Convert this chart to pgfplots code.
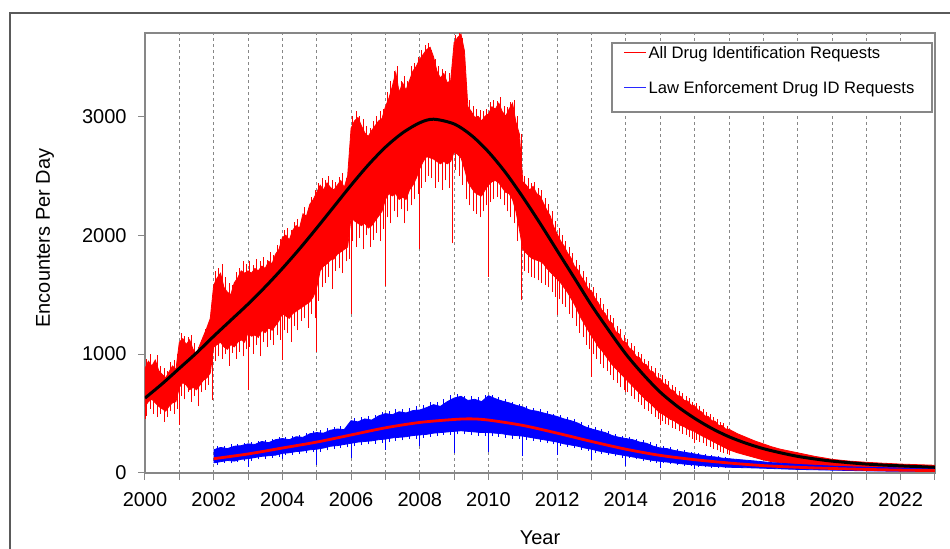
\documentclass[border=0pt]{standalone}
\usepackage{fontspec}
\setmainfont{Liberation Sans}
\usepackage{pgfplots}
\pgfplotsset{compat=1.18}

\definecolor{axgray}{RGB}{135,135,135}
\definecolor{framegray}{RGB}{90,90,90}
\definecolor{legblue}{RGB}{40,40,255}

\begin{document}
\begin{tikzpicture}
\useasboundingbox (0,0) rectangle (475pt,274.5pt);
\draw[framegray, line width=0.65pt] (5pt,-2pt) -- (5pt,268pt) -- (477pt,268pt);
\begin{axis}[
  at={(72.5pt,38pt)}, anchor=south west,
  scale only axis, width=395pt, height=220pt,
  xmin=2000, xmax=2023, ymin=0, ymax=3700,
  xtick={2000,2002,...,2022},
  minor xtick={2001,2003,...,2023},
  ytick={0,1000,2000,3000},
  xtick pos=bottom, ytick pos=left, tick align=outside,
  major tick length=3.5pt, minor tick length=3.5pt,
  tick style={axgray, line width=0.5pt},
  axis line style={axgray, line width=0.6pt},
  xmajorgrids, xminorgrids,
  major grid style={axgray, dash pattern=on 1.5pt off 1.5pt, line width=0.4pt},
  minor grid style={axgray, dash pattern=on 1.5pt off 1.5pt, line width=0.4pt},
  /pgf/number format/assume math mode=true,
  /pgf/number format/1000 sep={},
  tick label style={font=\fontsize{10}{12}\selectfont},
  xticklabel style={anchor=center, yshift=-9.75pt},
  yticklabel style={anchor=east, inner sep=0pt, xshift=-5.5pt},
  xlabel={Year}, ylabel={Encounters Per Day},
  label style={font=\fontsize{10}{12}\selectfont},
  xlabel style={at={(axis description cs:0.5,0)}, anchor=center, yshift=-32.5pt},
  ylabel style={at={(axis description cs:-0.1266,0.534)}, anchor=center},
  legend style={at={(axis description cs:0.6051,0.9716)}, anchor=north west,
    draw=none, fill=none, inner sep=0pt, row sep=9.5pt, column sep=1pt,
    font=\fontsize{8.3}{10}\selectfont,
    nodes={inner sep=0pt, text height=6.4pt, text depth=1.6pt}},
  legend cell align=left,
]
\addlegendimage{legend image code/.code={\draw[draw=red, line width=0.6pt] (0pt,0.5pt) -- (11pt,0.5pt);}}
\addlegendentry{All Drug Identification Requests}
\addlegendimage{legend image code/.code={\draw[draw=legblue, line width=0.6pt] (0pt,0.5pt) -- (11pt,0.5pt);}}
\addlegendentry{Law Enforcement Drug ID Requests}

% all drug identification requests: daily band, upper edge forward, lower edge back
\addplot[red, fill=red, line width=0.4pt, forget plot] table {
x y
2000.0 880
2000.1 940
2000.2 900
2000.3 950
2000.4 860
2000.5 830
2000.6 800
2000.7 850
2000.8 900
2000.9 870
2001.0 1100
2001.1 1130
2001.2 1080
2001.3 1120
2001.4 1040
2001.5 1000
2001.6 1080
2001.7 1150
2001.8 1220
2001.9 1300
2002.0 1580
2002.1 1640
2002.2 1680
2002.3 1560
2002.4 1520
2002.5 1500
2002.6 1600
2002.7 1640
2002.8 1700
2002.9 1680
2003.0 1700
2003.1 1680
2003.2 1720
2003.3 1700
2003.4 1740
2003.5 1720
2003.6 1780
2003.7 1760
2003.8 1840
2003.9 1880
2004.0 1980
2004.1 2000
2004.2 1960
2004.3 2040
2004.4 2080
2004.5 2060
2004.6 2180
2004.7 2160
2004.8 2260
2004.9 2300
2005.0 2360
2005.1 2420
2005.2 2380
2005.3 2440
2005.4 2400
2005.5 2380
2005.6 2420
2005.7 2460
2005.8 2400
2005.9 2500
2006.0 2900
2006.1 2960
2006.2 2990
2006.3 2920
2006.4 2860
2006.5 2830
2006.6 2880
2006.7 2920
2006.8 2960
2006.9 2980
2007.0 3080
2007.1 3150
2007.2 3250
2007.3 3370
2007.4 3200
2007.5 3280
2007.6 3220
2007.7 3300
2007.8 3380
2007.9 3420
2008.0 3480
2008.1 3520
2008.2 3560
2008.3 3580
2008.4 3500
2008.5 3380
2008.6 3320
2008.7 3360
2008.8 3280
2008.9 3300
2009.0 3620
2009.1 3660
2009.2 3690
2009.3 3550
2009.4 3080
2009.5 3040
2009.6 2990
2009.7 3000
2009.8 2960
2009.9 3000
2010.0 3020
2010.1 3080
2010.2 3060
2010.3 3110
2010.4 3040
2010.5 3000
2010.6 3060
2010.7 3110
2010.8 2950
2010.9 2850
2011.0 2450
2011.1 2420
2011.2 2380
2011.3 2410
2011.4 2350
2011.5 2330
2011.6 2270
2011.7 2210
2011.8 2160
2011.9 2070
2012.0 2010
2012.1 1950
2012.2 1910
2012.3 1850
2012.4 1810
2012.5 1740
2012.6 1710
2012.7 1650
2012.8 1610
2012.9 1550
2013.0 1530
2013.1 1470
2013.2 1430
2013.3 1370
2013.4 1340
2013.5 1280
2013.6 1260
2013.7 1190
2013.8 1170
2013.9 1110
2014.0 1100
2014.1 1050
2014.2 1030
2014.3 980
2014.4 970
2014.5 920
2014.6 910
2014.7 860
2014.8 850
2014.9 800
2015.0 795
2015.1 750
2015.2 740
2015.3 700
2015.4 690
2015.5 650
2015.6 645
2015.7 610
2015.8 605
2015.9 570
2016.0 565
2016.1 530
2016.2 515
2016.3 480
2016.4 475
2016.5 440
2016.6 435
2016.7 400
2016.8 400
2016.9 370
2017.0 368
2017.25 330
2017.5 300
2017.75 270
2018.0 245
2018.25 220
2018.5 200
2018.75 185
2019.0 170
2019.25 155
2019.5 140
2019.75 128
2020.0 115
2020.5 100
2021.0 90
2021.5 82
2022.0 75
2022.5 70
2023.0 65
2023.0 18
2022.5 20
2022.0 22
2021.5 26
2021.0 30
2020.5 36
2020.0 45
2019.75 50
2019.5 55
2019.25 62
2019.0 70
2018.75 78
2018.5 85
2018.25 95
2018.0 110
2017.75 130
2017.5 150
2017.25 170
2017.0 195
2016.9 210
2016.8 225
2016.7 240
2016.6 255
2016.5 270
2016.4 285
2016.3 300
2016.2 315
2016.1 330
2016.0 350
2015.9 360
2015.8 370
2015.7 390
2015.6 400
2015.5 420
2015.4 440
2015.3 450
2015.2 470
2015.1 490
2015.0 505
2014.9 530
2014.8 560
2014.7 590
2014.6 610
2014.5 640
2014.4 670
2014.3 700
2014.2 730
2014.1 760
2014.0 790
2013.9 820
2013.8 850
2013.7 880
2013.6 910
2013.5 950
2013.4 990
2013.3 1030
2013.2 1060
2013.1 1110
2013.0 1150
2012.9 1200
2012.8 1250
2012.7 1300
2012.6 1360
2012.5 1420
2012.4 1470
2012.3 1520
2012.2 1560
2012.1 1600
2012.0 1630
2011.9 1660
2011.8 1690
2011.7 1720
2011.6 1760
2011.5 1780
2011.4 1790
2011.3 1800
2011.2 1820
2011.1 1850
2011.0 1880
2010.9 2050
2010.8 2200
2010.7 2300
2010.6 2350
2010.5 2360
2010.4 2400
2010.3 2440
2010.2 2460
2010.1 2450
2010.0 2420
2009.9 2380
2009.8 2330
2009.7 2340
2009.6 2360
2009.5 2400
2009.4 2450
2009.3 2560
2009.2 2650
2009.1 2680
2009.0 2700
2008.9 2620
2008.8 2600
2008.7 2620
2008.6 2600
2008.5 2620
2008.4 2640
2008.3 2650
2008.2 2660
2008.1 2620
2008.0 2560
2007.9 2480
2007.8 2420
2007.7 2380
2007.6 2300
2007.5 2320
2007.4 2300
2007.3 2350
2007.2 2330
2007.1 2350
2007.0 2300
2006.9 2200
2006.8 2160
2006.7 2120
2006.6 2080
2006.5 2060
2006.4 2100
2006.3 2080
2006.2 2100
2006.1 2120
2006.0 2150
2005.9 1900
2005.8 1880
2005.7 1860
2005.6 1840
2005.5 1800
2005.4 1790
2005.3 1760
2005.2 1740
2005.1 1700
2005.0 1560
2004.9 1480
2004.8 1440
2004.7 1420
2004.6 1400
2004.5 1380
2004.4 1360
2004.3 1340
2004.2 1300
2004.1 1320
2004.0 1340
2003.9 1280
2003.8 1240
2003.7 1200
2003.6 1220
2003.5 1180
2003.4 1200
2003.3 1140
2003.2 1160
2003.1 1150
2003.0 1180
2002.9 1100
2002.8 1120
2002.7 1100
2002.6 1060
2002.5 1080
2002.4 1040
2002.3 1060
2002.2 1100
2002.1 1080
2002.0 1060
2001.9 840
2001.8 800
2001.7 780
2001.6 740
2001.5 700
2001.4 720
2001.3 700
2001.2 740
2001.1 760
2001.0 720
2000.9 600
2000.8 590
2000.7 560
2000.6 520
2000.5 540
2000.4 560
2000.3 590
2000.2 620
2000.1 600
2000.0 560
};
% day-to-day scatter beyond the band (bottom and top of each stroke)
\addplot[draw=none, mark=none, forget plot,
  error bars/.cd, y dir=plus, y explicit, error mark=none,
  error bar style={draw=red, line width=0.35pt, solid}]
  table[x=x, y=bot, y error expr=\thisrow{top}-\thisrow{bot}] {
x bot top
2000.05 480 960
2000.15 540 1000
2000.25 500 920
2000.35 470 990
2000.45 500 900
2000.55 430 880
2000.65 470 860
2000.75 520 930
2000.85 500 950
2000.95 540 1000
2001.05 650 1180
2001.15 620 1150
2001.25 680 1140
2001.35 600 1160
2001.45 650 1090
2001.55 560 1060
2001.65 680 1120
2001.75 700 1210
2001.85 740 1260
2001.95 780 1380
2002.05 940 1700
2002.15 980 1720
2002.25 960 1760
2002.35 1000 1650
2002.45 900 1600
2002.55 1010 1580
2002.65 960 1690
2002.75 1020 1720
2002.85 980 1780
2002.95 1040 1760
2003.05 1060 1780
2003.15 1000 1750
2003.25 1080 1800
2003.35 980 1780
2003.45 1100 1820
2003.55 1060 1790
2003.65 1120 1860
2003.75 1080 1830
2003.85 1160 1920
2003.95 1120 1970
2004.05 1200 2040
2004.15 1180 2060
2004.25 1100 2040
2004.35 1240 2110
2004.45 1200 2140
2004.55 1280 2130
2004.65 1300 2240
2004.75 1220 2230
2004.85 1340 2320
2004.95 1300 2380
2005.05 1450 2440
2005.15 1560 2480
2005.25 1600 2460
2005.35 1650 2500
2005.45 1550 2460
2005.55 1700 2450
2005.65 1720 2490
2005.75 1680 2520
2005.85 1780 2480
2005.95 1800 2600
2006.05 1950 3000
2006.15 1900 3040
2006.25 1980 3000
2006.35 1880 2980
2006.45 2000 2920
2006.55 1900 2900
2006.65 1960 2960
2006.75 2020 3000
2006.85 1950 3040
2006.95 2050 3060
2007.05 2150 3200
2007.15 2100 3300
2007.25 2200 3380
2007.35 2150 3420
2007.45 2220 3300
2007.55 2100 3340
2007.65 2200 3300
2007.75 2250 3420
2007.85 2300 3450
2007.95 2350 3500
2008.05 2400 3560
2008.15 2450 3600
2008.25 2500 3620
2008.35 2480 3560
2008.45 2400 3480
2008.55 2450 3420
2008.65 2380 3400
2008.75 2460 3380
2008.85 2400 3360
2008.95 2500 3450
2009.05 2550 3680
2009.15 2500 3700
2009.25 2420 3660
2009.35 2300 3250
2009.45 2250 3140
2009.55 2200 3090
2009.65 2180 3060
2009.75 2150 3050
2009.85 2200 3040
2009.95 2250 3060
2010.05 2280 3120
2010.15 2300 3140
2010.25 2320 3130
2010.35 2300 3160
2010.45 2250 3090
2010.55 2200 3080
2010.65 2150 3120
2010.75 2100 3140
2010.85 1950 3000
2010.95 1800 2850
2011.05 1700 2500
2011.15 1680 2480
2011.25 1650 2440
2011.35 1640 2450
2011.45 1620 2400
2011.55 1600 2380
2011.65 1580 2310
2011.75 1560 2260
2011.85 1520 2200
2011.95 1480 2120
2012.05 1460 2060
2012.15 1420 2000
2012.25 1400 1950
2012.35 1340 1900
2012.45 1300 1850
2012.55 1240 1790
2012.65 1180 1750
2012.75 1140 1700
2012.85 1080 1650
2012.95 1040 1600
2013.05 1000 1560
2013.15 960 1510
2013.25 920 1470
2013.35 880 1420
2013.45 860 1380
2013.55 820 1330
2013.65 780 1300
2013.75 760 1240
2013.85 720 1210
2013.95 700 1160
2014.05 680 1130
2014.15 650 1090
2014.25 620 1070
2014.35 600 1020
2014.45 570 1000
2014.55 540 960
2014.65 520 940
2014.75 500 900
2014.85 470 880
2014.95 450 840
2015.05 440 820
2015.15 410 790
2015.25 400 770
2015.35 380 740
2015.45 370 720
2015.55 350 690
2015.65 330 670
2015.75 320 650
2015.85 300 630
2015.95 290 600
2016.05 280 590
2016.15 260 560
2016.25 250 540
2016.35 230 510
2016.45 220 500
2016.55 200 470
2016.65 190 450
2016.75 180 430
2016.85 170 420
2016.95 160 395
};
% holiday dips
\addplot[red, line width=0.4pt, forget plot, unbounded coords=jump] coordinates {
(2000.0,450)(2000.0,620) (2000.0,nan)
(2001.0,405)(2001.0,760) (2001.0,nan)
(2001.97,616)(2001.97,900) (2001.97,nan)
(2003.0,700)(2003.0,1200) (2003.0,nan)
(2004.0,950)(2004.0,1350) (2004.0,nan)
(2005.0,1020)(2005.0,1600) (2005.0,nan)
(2005.45,1550)(2005.45,1820) (2005.45,nan)
(2006.0,1340)(2006.0,2150) (2006.0,nan)
(2007.0,1570)(2007.0,2320) (2007.0,nan)
(2008.0,1880)(2008.0,2580) (2008.0,nan)
(2008.95,1930)(2008.95,2650) (2008.95,nan)
(2010.0,1650)(2010.0,2430) (2010.0,nan)
(2010.95,1455)(2010.95,2000) (2010.95,nan)
(2012.0,1330)(2012.0,1640) (2012.0,nan)
(2013.0,810)(2013.0,1160) (2013.0,nan)
(2014.0,680)(2014.0,800) (2014.0,nan)
(2015.0,400)(2015.0,510) (2015.0,nan)
(2016.0,250)(2016.0,360) (2016.0,nan)
(2017.0,150)(2017.0,200)
};

% law enforcement drug ID requests: daily band
\addplot[blue, fill=blue, line width=0.4pt, forget plot] table {
x y
2002.0 195
2002.2 215
2002.4 205
2002.6 225
2002.8 230
2003.0 245
2003.2 240
2003.4 265
2003.6 255
2003.8 280
2004.0 290
2004.2 280
2004.4 305
2004.6 300
2004.8 330
2005.0 340
2005.2 335
2005.4 360
2005.6 370
2005.8 365
2006.0 440
2006.2 430
2006.4 455
2006.6 445
2006.8 480
2007.0 500
2007.2 490
2007.4 515
2007.6 505
2007.8 525
2008.0 530
2008.2 550
2008.4 575
2008.6 560
2008.8 600
2009.0 630
2009.2 645
2009.4 610
2009.6 620
2009.8 600
2010.0 650
2010.2 625
2010.4 605
2010.6 590
2010.8 570
2011.0 555
2011.2 530
2011.4 520
2011.6 505
2011.8 490
2012.0 475
2012.2 455
2012.4 440
2012.6 420
2012.8 390
2013.0 370
2013.2 355
2013.4 340
2013.6 315
2013.8 300
2014.0 290
2014.2 280
2014.4 260
2014.6 250
2014.8 225
2015.0 210
2015.2 205
2015.4 190
2015.6 180
2015.8 170
2016.0 160
2016.2 150
2016.4 140
2016.6 135
2016.8 125
2017.0 120
2017.4 110
2017.8 100
2018.2 88
2018.6 80
2019.0 72
2019.5 65
2020.0 58
2020.5 52
2021.0 48
2021.5 45
2022.0 42
2022.5 40
2023.0 38
2023.0 13
2022.5 14
2022.0 15
2021.5 16
2021.0 18
2020.5 21
2020.0 24
2019.5 27
2019.0 30
2018.6 34
2018.2 38
2017.8 42
2017.4 45
2017.0 48
2016.8 52
2016.6 55
2016.4 58
2016.2 62
2016.0 68
2015.8 72
2015.6 78
2015.4 85
2015.2 92
2015.0 98
2014.8 105
2014.6 115
2014.4 125
2014.2 135
2014.0 145
2013.8 155
2013.6 165
2013.4 175
2013.2 185
2013.0 200
2012.8 210
2012.6 225
2012.4 235
2012.2 245
2012.0 260
2011.8 270
2011.6 280
2011.4 290
2011.2 300
2011.0 310
2010.8 315
2010.6 320
2010.4 330
2010.2 335
2010.0 340
2009.8 340
2009.6 345
2009.4 350
2009.2 355
2009.0 350
2008.8 345
2008.6 340
2008.4 335
2008.2 325
2008.0 320
2007.8 315
2007.6 305
2007.4 300
2007.2 295
2007.0 285
2006.8 280
2006.6 270
2006.4 265
2006.2 260
2006.0 250
2005.8 240
2005.6 230
2005.4 225
2005.2 210
2005.0 200
2004.8 195
2004.6 185
2004.4 180
2004.2 170
2004.0 165
2003.8 150
2003.6 145
2003.4 140
2003.2 130
2003.0 120
2002.8 115
2002.6 100
2002.4 105
2002.2 95
2002.0 85
};
\addplot[draw=none, mark=none, forget plot,
  error bars/.cd, y dir=plus, y explicit, error mark=none,
  error bar style={draw=blue, line width=0.35pt, solid}]
  table[x=x, y=bot, y error expr=\thisrow{top}-\thisrow{bot}] {
x bot top
2002.1 70 225
2002.3 85 230
2002.5 80 240
2002.7 95 245
2002.9 100 255
2003.1 105 260
2003.3 115 270
2003.5 120 280
2003.7 130 285
2003.9 135 300
2004.1 150 305
2004.3 150 315
2004.5 160 320
2004.7 165 340
2004.9 175 355
2005.1 180 360
2005.3 190 375
2005.5 205 390
2005.7 210 395
2005.9 215 400
2006.1 225 465
2006.3 235 470
2006.5 240 480
2006.7 245 490
2006.9 255 510
2007.1 260 525
2007.3 270 535
2007.5 275 540
2007.7 285 550
2007.9 290 560
2008.1 295 575
2008.3 305 600
2008.5 310 600
2008.7 320 625
2008.9 320 655
2009.1 325 665
2009.3 325 650
2009.5 320 645
2009.7 315 640
2009.9 315 660
2010.1 310 660
2010.3 305 640
2010.5 295 620
2010.7 290 600
2010.9 285 580
2011.1 280 560
2011.3 270 550
2011.5 260 535
2011.7 250 520
2011.9 240 500
2012.1 230 490
2012.3 220 470
2012.5 210 455
2012.7 195 430
2012.9 185 405
2013.1 170 385
2013.3 160 370
2013.5 150 350
2013.7 140 330
2013.9 130 315
2014.1 125 305
2014.3 115 290
2014.5 105 275
2014.7 95 260
2014.9 88 240
2015.1 82 225
2015.3 75 215
2015.5 68 200
2015.7 62 190
2015.9 58 178
2016.1 52 168
2016.3 48 158
2016.5 45 150
2016.7 42 140
2016.9 40 132
};
\addplot[blue, line width=0.4pt, forget plot, unbounded coords=jump] coordinates {
(2003,50)(2003,125) (2003,nan)
(2004,120)(2004,170) (2004,nan)
(2005,70)(2005,205) (2005,nan)
(2006,130)(2006,255) (2006,nan)
(2007,196)(2007,290) (2007,nan)
(2008,225)(2008,325) (2008,nan)
(2009,168)(2009,355) (2009,nan)
(2010,180)(2010,340) (2010,nan)
(2011,140)(2011,310) (2011,nan)
(2012,150)(2012,260) (2012,nan)
(2013,110)(2013,200) (2013,nan)
(2014,60)(2014,145) (2014,nan)
(2015,40)(2015,98) (2015,nan)
(2016,30)(2016,68)
};

% fitted trends
\addplot[black, line width=1.5pt, smooth, forget plot] coordinates {
(2000,630)(2000.5,750)(2001,880)(2001.5,1010)(2002,1150)(2002.5,1285)
(2003,1420)(2003.5,1565)(2004,1720)(2004.5,1885)(2005,2060)(2005.5,2240)
(2006,2420)(2006.5,2590)(2007,2740)(2007.5,2860)(2008,2945)(2008.4,2975)
(2009,2935)(2009.5,2840)(2010,2700)(2010.5,2525)(2011,2320)(2011.5,2100)
(2012,1870)(2012.5,1640)(2013,1410)(2013.5,1200)(2014,1000)(2014.5,830)
(2015,680)(2015.5,560)(2016,460)(2016.5,375)(2017,305)(2017.5,250)
(2018,205)(2018.5,170)(2019,140)(2019.5,118)(2020,100)(2021,75)
(2022,60)(2023,48)
};
\addplot[red, line width=1.4pt, smooth, forget plot] coordinates {
(2002,120)(2003,160)(2004,210)(2005,260)(2006,320)(2007,380)(2008,425)
(2009,450)(2009.5,455)(2010,445)(2011,400)(2012,335)(2013,265)(2014,200)
(2015,148)(2016,112)(2017,84)(2018,62)(2019,48)(2020,38)(2021,30)
(2022,24)(2023,20)
};

% legend frame
\draw[axgray, line width=0.6pt, fill=white]
  (axis description cs:0.5911,0.9773) rectangle (axis description cs:0.9962,0.8205);
\end{axis}
\end{tikzpicture}
\end{document}
